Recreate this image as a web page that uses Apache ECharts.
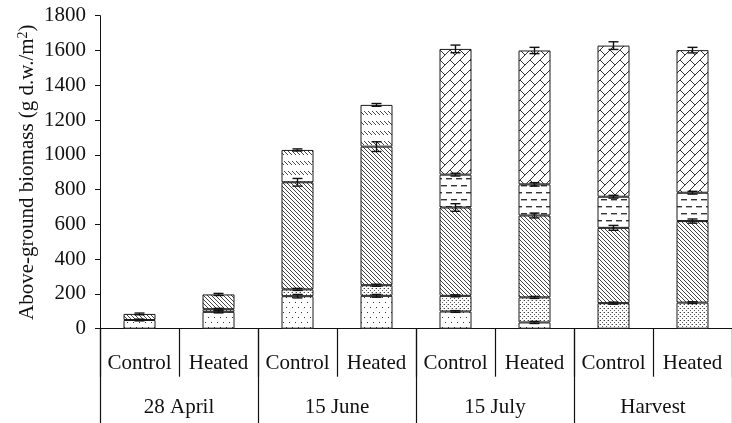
<!DOCTYPE html>
<html>
<head>
<meta charset="utf-8">
<script src="https://cdn.jsdelivr.net/npm/echarts@6/dist/echarts.min.js"></script>
<style>
  html, body { margin: 0; padding: 0; background: #fff; }
  #chart { width: 732px; height: 423px; }
</style>
</head>
<body>
<div id="chart"></div>
<script>
// Treatments (bars) and sampling dates (groups of two bars)
const treatments = ['Control', 'Heated', 'Control', 'Heated', 'Control', 'Heated', 'Control', 'Heated'];
const dates = ['28 April', '15 June', '15 July', 'Harvest'];

// Biomass components, g d.w./m2, stacked from the bottom up
const fineDots   = [50, 97, 187, 189, 99, 36, null, null];
const stipple    = [null, 15, 39, 61, 90, 144, 147, 150];
const hatch      = [35, 85, 616, 797, 508, 471, 433, 469];
const brokenHash = [null, null, 186, 240, null, null, null, null];
const dashes     = [null, null, null, null, 189, 179, 179, 163];
const brick      = [null, null, null, null, 723, 770, 869, 820];

// Standard errors at the top of each component
const errFineDots   = [5, 6, 10, 8, 5, 6, null, null];
const errStipple    = [null, 5, 6, 6, 6, 6, 6, 5];
const errHatch      = [5, 6, 22, 28, 22, 14, 14, 12];
const errBrokenHash = [null, null, 6, 8, null, null, null, null];
const errDashes     = [null, null, null, null, 8, 10, 8, 8];
const errBrick      = [null, null, null, null, 22, 18, 22, 16];

const yTicks = { min: 0, max: 1800, interval: 200 };

// ---- fill patterns drawn on small tiles ----
function tile(w, h, draw) {
  const c = document.createElement('canvas');
  c.width = w; c.height = h;
  const g = c.getContext('2d');
  g.fillStyle = '#fff';
  g.fillRect(0, 0, w, h);
  draw(g);
  return { image: c, repeat: 'repeat' };
}
const px = (g, x, y, col) => { g.fillStyle = col; g.fillRect(x, y, 1, 1); };

const patFineDots = tile(6, 10, g => { px(g, 1, 2, '#333'); px(g, 4, 7, '#333'); });
const patStipple = tile(4, 4, g => { px(g, 0, 0, '#444'); px(g, 2, 2, '#555'); px(g, 3, 0, '#bbb'); });
const patHatch = tile(4, 4, g => { for (let i = 0; i < 4; i++) px(g, i, i, '#444'); });
const patBroken = tile(4, 10, g => { for (let i = 0; i < 4; i++) px(g, i, i + 1, '#444'); });
const patDashes = tile(10, 14, g => {
  g.fillStyle = '#333';
  g.fillRect(1, 3, 6, 1.4);
  g.fillRect(6, 10, 6, 1.4);
  g.fillRect(0, 10, 2, 1.4);
});
const patBrick = tile(10, 10, g => {
  for (let i = 0; i < 10; i++) px(g, i, 9 - i, '#333');
  for (let i = 0; i < 5; i++) px(g, i, i, '#333');
});

const layers = [
  { name: 'fine', data: fineDots, err: errFineDots, fill: patFineDots },
  { name: 'stipple', data: stipple, err: errStipple, fill: patStipple },
  { name: 'hatch', data: hatch, err: errHatch, fill: patHatch },
  { name: 'broken', data: brokenHash, err: errBrokenHash, fill: patBroken },
  { name: 'dashes', data: dashes, err: errDashes, fill: patDashes },
  { name: 'brick', data: brick, err: errBrick, fill: patBrick }
];

// stacked bars
const barSeries = layers.map(l => ({
  type: 'bar',
  name: l.name,
  stack: 'biomass',
  barWidth: 32,
  data: l.data.map(v => (v == null ? '-' : v)),
  itemStyle: { color: l.fill, borderColor: '#1a1a1a', borderWidth: 1 },
  emphasis: { disabled: true },
  animation: false
}));

// error bars at the top of each stacked component
const errData = [];
const running = treatments.map(() => 0);
layers.forEach(l => {
  l.data.forEach((v, i) => {
    if (v == null) return;
    running[i] += v;
    if (l.err[i] != null) errData.push([i, running[i], l.err[i]]);
  });
});

const errorSeries = {
  type: 'custom',
  data: errData,
  encode: { x: 0, y: 1 },
  z: 10,
  animation: false,
  renderItem: (params, api) => {
    const i = api.value(0), v = api.value(1), e = api.value(2);
    const hi = api.coord([i, v + e]);
    const lo = api.coord([i, v - e]);
    const half = 5;
    const style = { stroke: '#111', lineWidth: 1.4 };
    return {
      type: 'group',
      children: [
        { type: 'line', shape: { x1: hi[0], y1: hi[1], x2: lo[0], y2: lo[1] }, style },
        { type: 'line', shape: { x1: hi[0] - half, y1: hi[1], x2: hi[0] + half, y2: hi[1] }, style },
        { type: 'line', shape: { x1: lo[0] - half, y1: lo[1], x2: lo[0] + half, y2: lo[1] }, style }
      ]
    };
  }
};

const font = 'Liberation Serif';
const chart = echarts.init(document.getElementById('chart'), null, { renderer: 'canvas' });
chart.setOption({
  backgroundColor: '#fff',
  animation: false,
  grid: { left: 100, top: 15.7, width: 640, height: 313 },
  xAxis: [
    {
      type: 'category',
      data: treatments,
      axisLine: { show: true, lineStyle: { color: '#111', width: 1 } },
      axisTick: { show: true, interval: 0, length: 48, lineStyle: { color: '#111', width: 1.2 } },
      axisLabel: { interval: 0, margin: 24, color: '#111', fontFamily: font, fontSize: 21 }
    },
    {
      type: 'category',
      data: dates,
      position: 'bottom',
      axisLine: { show: false },
      axisTick: { show: true, interval: 0, length: 100, lineStyle: { color: '#111', width: 1.2 } },
      axisLabel: { interval: 0, margin: 68, color: '#111', fontFamily: font, fontSize: 21 }
    }
  ],
  yAxis: {
    type: 'value',
    min: yTicks.min,
    max: yTicks.max,
    interval: yTicks.interval,
    splitLine: { show: false },
    axisLine: { show: true, lineStyle: { color: '#111', width: 1 } },
    axisTick: { show: true, length: 5, lineStyle: { color: '#111' } },
    axisLabel: { margin: 14, color: '#111', fontFamily: font, fontSize: 21, formatter: v => String(v) },
    name: '{t|Above-ground biomass (g d.w./m}{s|2}{t|)}',
    nameLocation: 'middle',
    nameGap: 62,
    nameMoveOverlap: false,
    nameTextStyle: {
      rich: {
        t: { fontFamily: font, fontSize: 21, color: '#111' },
        s: { fontFamily: font, fontSize: 14, color: '#111', verticalAlign: 'top', padding: [0, 0, 8, 0] }
      }
    }
  },
  series: [...barSeries, errorSeries]
});
</script>
</body>
</html>
